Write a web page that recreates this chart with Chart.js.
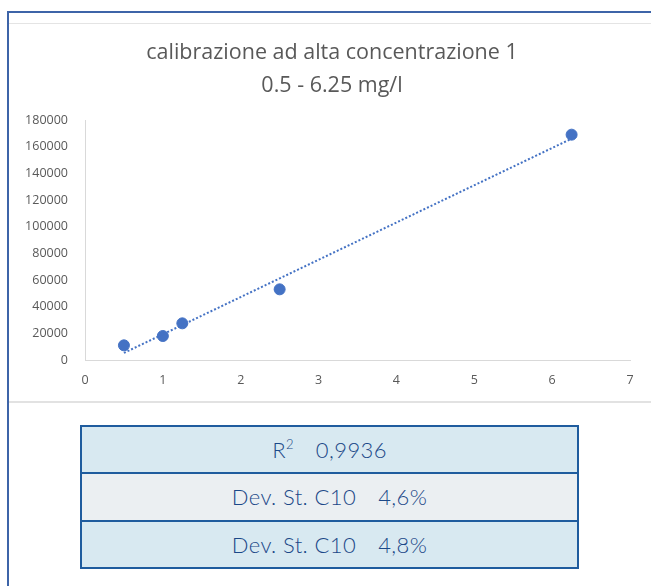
<!DOCTYPE html>
<html>
<head>
<meta charset="utf-8">
<script src="https://cdn.jsdelivr.net/npm/chart.js@4.4.1/dist/chart.umd.min.js"></script>
<style>
  html, body { margin: 0; padding: 0; background: #ffffff; width: 651px; height: 586px; overflow: hidden; }
  #wrap { position: absolute; left: 0; top: 0; width: 651px; height: 400px; }
  .line { position: absolute; }
  #frameTop { left: 7px; top: 11px; width: 644px; height: 2px; background: #3d64a8; }
  #frameLeft { left: 7px; top: 11px; width: 2px; height: 575px; background: #3d64a8; }
  #grayTop { left: 9px; top: 23px; width: 642px; height: 1px; background: #e4e4e4; }
  #graySep { left: 9px; top: 401px; width: 642px; height: 2px; background: #e2e2e2; }
  #stats { position: absolute; left: 80px; top: 425px; width: 499px; height: 144px;
           border-collapse: collapse; font-family: Lato, "Open Sans", sans-serif; }
  #stats td { border: 2px solid #1f5c9e; height: 44px; padding: 0; text-align: center;
              font-size: 22px; font-weight: 300; letter-spacing: 0.4px; color: #1b4888; white-space: nowrap; }
  #stats tr.blue td { background: #d8e9f1; }
  #stats tr.gray td { background: #ebeff2; }
  #stats .val { margin-left: 22px; }
  #stats sup { font-size: 13px; position: relative; top: -1px; }
</style>
</head>
<body>
<div id="wrap"><canvas id="c" width="651" height="400"></canvas></div>
<div class="line" id="grayTop"></div>
<div class="line" id="graySep"></div>
<div class="line" id="frameTop"></div>
<div class="line" id="frameLeft"></div>
<table id="stats"><tbody id="statsBody"></tbody></table>
<script>
// ---- data ----
const concentrations = [0.5, 1, 1.25, 2.5, 6.25];          // mg/l
const areas = [11000, 18000, 27500, 53000, 169000];        // response
const trendX = [0.5, 6.25];                                // linear trendline ends
const trendY = [5300, 166000];
const yTickMin = 0, yTickMax = 180000, yTickStep = 20000;
const xTickMin = 0, xTickMax = 7, xTickStep = 1;
const titleLines = ['calibrazione ad alta concentrazione 1', '0.5 - 6.25 mg/l'];
const statLabels = ['R', 'Dev. St. C10', 'Dev. St. C10'];
const statSups = ['2', '', ''];
const statValues = ['0,9936', '4,6%', '4,8%'];
const rowStyles = ['blue', 'gray', 'blue'];

// ---- stats table ----
const body = document.getElementById('statsBody');
statLabels.forEach((lab, i) => {
  const tr = document.createElement('tr');
  tr.className = rowStyles[i];
  const td = document.createElement('td');
  const l = document.createElement('span');
  l.textContent = lab;
  td.appendChild(l);
  if (statSups[i]) {
    const s = document.createElement('sup');
    s.textContent = statSups[i];
    td.appendChild(s);
  }
  const v = document.createElement('span');
  v.className = 'val';
  v.textContent = statValues[i];
  td.appendChild(v);
  tr.appendChild(td);
  body.appendChild(tr);
});

// ---- chart ----
const blue = '#4472C4';
const tickColor = '#595959';
const axisColor = '#d9d9d9';

// centre the title over the whole chart frame rather than the canvas box
const titleShift = {
  id: 'titleShift',
  afterLayout(chart) {
    const t = chart.titleBlock;
    if (t) { t.left += 17; t.right += 17; }
  }
};

new Chart(document.getElementById('c'), {
  type: 'scatter',
  plugins: [titleShift],
  data: {
    datasets: [
      {
        label: 'trend',
        data: trendX.map((x, i) => ({ x: x, y: trendY[i] })),
        showLine: true,
        borderColor: blue,
        borderWidth: 2,
        borderDash: [2, 2],
        pointRadius: 0,
        fill: false
      },
      {
        label: 'calibrazione',
        data: concentrations.map((x, i) => ({ x: x, y: areas[i] })),
        backgroundColor: blue,
        borderColor: blue,
        pointRadius: 5.5,
        pointHoverRadius: 5.5,
        showLine: false
      }
    ]
  },
  options: {
    responsive: false,
    animation: false,
    layout: { padding: { left: 0, right: 21, top: 0, bottom: 0 } },
    plugins: {
      legend: { display: false },
      tooltip: { enabled: false },
      title: {
        display: true,
        text: titleLines,
        color: tickColor,
        font: { family: 'Open Sans', size: 21.5, weight: 'normal', lineHeight: 1.5 },
        padding: { top: 37, bottom: 18.5 }
      }
    },
    scales: {
      x: {
        type: 'linear',
        min: xTickMin, max: xTickMax,
        grid: { display: false, drawTicks: false },
        border: { display: true, color: axisColor, width: 1 },
        ticks: { stepSize: xTickStep, color: tickColor, padding: 13,
                 font: { family: 'Open Sans', size: 12.5 } },
        afterFit: s => { s.height = 40; }
      },
      y: {
        type: 'linear',
        min: yTickMin, max: yTickMax,
        grid: { display: false, drawTicks: false },
        border: { display: true, color: axisColor, width: 1 },
        ticks: { stepSize: yTickStep, color: tickColor, padding: 17,
                 font: { family: 'Open Sans', size: 12.5 },
                 callback: v => String(v) },
        afterFit: s => { s.width = 85; }
      }
    }
  }
});
</script>
</body>
</html>
